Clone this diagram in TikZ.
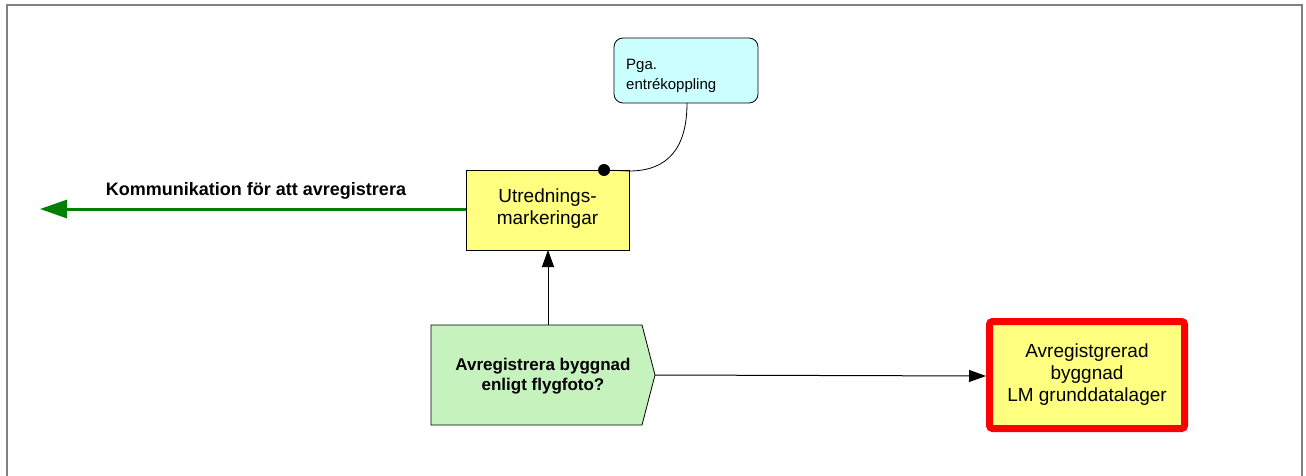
\documentclass[tikz,border=0pt]{standalone}
\usepackage{fontspec}
\setmainfont{Liberation Sans}
\usetikzlibrary{arrows.meta,shapes.geometric}
\definecolor{frame}{HTML}{808080}
\definecolor{notecyan}{HTML}{CCFFFF}
\definecolor{boxyellow}{HTML}{FFFF80}
\definecolor{evgreen}{HTML}{C6F2BE}
\definecolor{arrgreen}{HTML}{008000}
\definecolor{redframe}{HTML}{FF0000}
\tikzset{
  notebox/.style={draw=black, line width=0.8pt, fill=notecyan, rounded corners=9pt},
  plainbox/.style={draw=black, line width=0.8pt, fill=boxyellow},
  txt/.style={font=\fontsize{19}{22}\selectfont, align=center},
  conn/.style={draw=black, line width=1pt, -{Triangle[length=17pt,width=12pt]}}
}
\begin{document}
\begin{tikzpicture}[x=1pt,y=-1pt]
\useasboundingbox (0,0) rectangle (1306,476);
% frame
\draw[frame, line width=1.2pt] (7,476) -- (7,5) -- (1302,5) -- (1302,476);
% note
\draw[notebox] (614,38) rectangle (758,103);
\node[anchor=north west, font=\fontsize{15}{20}\selectfont, align=left, inner sep=0pt] (pga) at (626,59) {Pga.\\entrékoppling};
\coordinate (pgab) at (687,103);
% yellow box
\draw[plainbox] (466,170) rectangle (629,250);
\node[txt] (utr) at (547.5,209) {Utrednings-\\markeringar};
\coordinate (utrtop) at (604,170);
\coordinate (utrbot) at (548,250);
\coordinate (utrleft) at (466,209);
\coordinate (utrcorner) at (629,171);
% curve
\draw[line width=0.8pt] (pgab) .. controls (687,148) and (668,171) .. (utrcorner) -- (utrtop);
\fill (utrtop) circle (6pt);
% green arrow
\coordinate (gend) at (40,209);
\draw[arrgreen, line width=3pt, -{Triangle[length=27pt,width=18pt]}] (utrleft) -- (gend);
\node[font=\bfseries\fontsize{18}{20}\selectfont] (kom) at (256,191) {Kommunikation för att avregistrera};
% event pentagon
\draw[draw=black, line width=0.8pt, fill=evgreen] (431,325) -- (642,325) -- (655,375) -- (642,425) -- (431,425) -- cycle;
\node[txt, font=\bfseries\fontsize{17}{20}\selectfont] (ev) at (543,376) {Avregistrera byggnad\\enligt flygfoto?};
\coordinate (evtop) at (548,325);
\coordinate (evright) at (655,375);
% red box
\draw[draw=redframe, line width=7pt, fill=boxyellow, rounded corners=3pt] (989.5,321.5) rectangle (1184.5,428.5);
\node[txt] (res) at (1087,375) {Avregistgrerad\\byggnad\\LM grunddatalager};
\coordinate (resleft) at (986,376);
% connectors
\draw[conn] (evtop) -- (utrbot);
\draw[conn] (evright) -- (resleft);
\end{tikzpicture}
\end{document}
